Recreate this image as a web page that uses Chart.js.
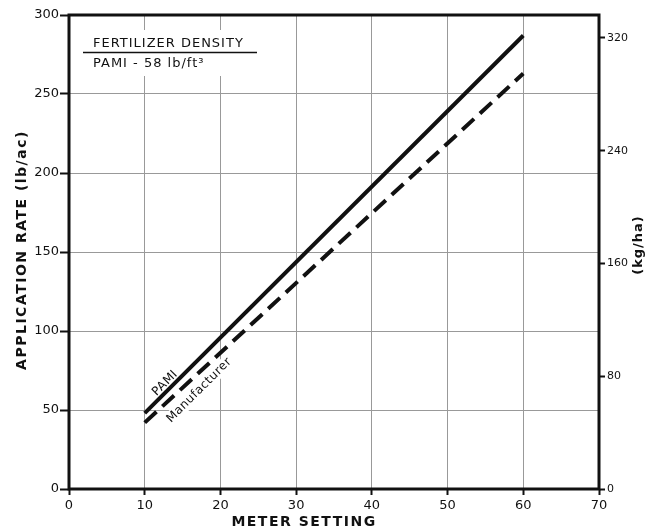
<!DOCTYPE html>
<html>
<head>
<meta charset="utf-8">
<script src="https://cdn.jsdelivr.net/npm/chart.js@4.4.1/dist/chart.umd.min.js"></script>
<style>
  html, body { margin: 0; padding: 0; background: #fff; }
  #wrap { width: 657px; height: 531px; position: relative; }
</style>
</head>
<body>
<div id="wrap"><canvas id="chart"></canvas></div>
<script>
// Meter setting vs application rate
const meterSettings = [10, 60];
const pamiRates = [48, 287];          // lb/ac
const manufacturerRates = [42, 263];  // lb/ac

const xTicks = [0, 10, 20, 30, 40, 50, 60, 70];
const lbTicks = [0, 50, 100, 150, 200, 250, 300];
const kgTicks = [0, 80, 160, 240, 320];
const LB_TO_KG = 1.12085;

const ink = '#111';
const font = '"DejaVu Sans", sans-serif';

function points(xs, ys) {
    return xs.map((x, i) => ({ x: x, y: ys[i] }));
}

// rotated labels next to the lines: [text, meter setting, rate]
const lineLabels = [
    ['PAMI', 12.7, 67],
    ['Manufacturer', 17.2, 62.5]
];

function eachLineLabel(chart, fn) {
    const ctx = chart.ctx;
    const xs = chart.scales.x;
    const ys = chart.scales.y;
    ctx.font = '12px ' + font;
    ctx.letterSpacing = '0.5px';
    ctx.textAlign = 'center';
    ctx.textBaseline = 'middle';
    lineLabels.forEach(([text, mx, my]) => {
        ctx.save();
        ctx.translate(xs.getPixelForValue(mx), ys.getPixelForValue(my));
        ctx.rotate(-Math.PI / 4);
        fn(ctx, text, ctx.measureText(text).width);
        ctx.restore();
    });
}

// frame, titles and the annotations
const decorPlugin = {
    id: 'decor',
    beforeDatasetsDraw(chart) {
        const ctx = chart.ctx;
        ctx.save();
        ctx.fillStyle = '#fff';
        ctx.fillRect(84, 30, 174, 46);
        eachLineLabel(chart, (c, text, w) => {
            c.fillStyle = '#fff';
            c.fillRect(-w / 2 - 3, -7, w + 6, 14);
        });
        ctx.restore();
    },
    afterDatasetsDraw(chart) {
        const ctx = chart.ctx;
        const a = chart.chartArea;
        ctx.save();

        // density box
        ctx.font = '13px ' + font;
        ctx.textBaseline = 'middle';
        ctx.textAlign = 'left';
        ctx.letterSpacing = '1px';
        ctx.fillStyle = ink;
        ctx.fillText('FERTILIZER DENSITY', 93, 44);
        ctx.fillText('PAMI - 58 lb/ft\u00B3', 93, 64);
        ctx.strokeStyle = ink;
        ctx.lineWidth = 1.5;
        ctx.beginPath();
        ctx.moveTo(83, 52.5);
        ctx.lineTo(257, 52.5);
        ctx.stroke();

        eachLineLabel(chart, (c, text) => {
            c.fillStyle = ink;
            c.fillText(text, 0, 0);
        });

        // frame
        ctx.strokeStyle = ink;
        ctx.lineWidth = 3;
        ctx.strokeRect(a.left, a.top, a.right - a.left, a.bottom - a.top);

        // axis titles
        ctx.fillStyle = ink;
        ctx.textBaseline = 'middle';
        ctx.letterSpacing = '1.5px';
        ctx.font = 'bold 14px ' + font;
        ctx.textAlign = 'center';
        ctx.fillText('METER SETTING', 304, 522);

        ctx.save();
        ctx.translate(22, 250);
        ctx.rotate(-Math.PI / 2);
        ctx.fillText('APPLICATION RATE (lb/ac)', 0, 0);
        ctx.restore();

        ctx.letterSpacing = '1px';
        ctx.font = 'bold 13px ' + font;
        ctx.save();
        ctx.translate(639, 245);
        ctx.rotate(-Math.PI / 2);
        ctx.fillText('(kg/ha)', 0, 0);
        ctx.restore();

        ctx.restore();
    }
};

const ctx = document.getElementById('chart').getContext('2d');
new Chart(ctx, {
    type: 'line',
    data: {
        datasets: [
            {
                label: 'PAMI',
                data: points(meterSettings, pamiRates),
                borderColor: ink,
                borderWidth: 4,
                pointRadius: 0,
                borderCapStyle: 'butt'
            },
            {
                label: 'Manufacturer',
                data: points(meterSettings, manufacturerRates),
                borderColor: ink,
                borderWidth: 4,
                borderDash: [16, 8],
                pointRadius: 0,
                borderCapStyle: 'butt'
            }
        ]
    },
    options: {
        responsive: true,
        maintainAspectRatio: false,
        animation: false,
        layout: { padding: { top: 15, left: 0, right: 0, bottom: 0 } },
        plugins: {
            legend: { display: false },
            tooltip: { enabled: false }
        },
        scales: {
            x: {
                type: 'linear',
                min: 0,
                max: 70,
                afterFit: s => { s.height = 42; },
                afterBuildTicks: s => { s.ticks = xTicks.map(v => ({ value: v })); },
                grid: { color: '#999', lineWidth: 1, tickColor: ink, tickWidth: 2, tickLength: 6 },
                border: { display: false },
                ticks: { color: ink, font: { family: font, size: 13 }, padding: 3 }
            },
            y: {
                position: 'left',
                min: 0,
                max: 300,
                afterFit: s => { s.width = 69; },
                afterBuildTicks: s => { s.ticks = lbTicks.map(v => ({ value: v })); },
                grid: { color: '#999', lineWidth: 1, tickColor: ink, tickWidth: 2, tickLength: 9 },
                border: { display: false },
                ticks: { color: ink, font: { family: font, size: 13 }, padding: 1 }
            },
            kg: {
                position: 'right',
                min: 0,
                max: 300 * LB_TO_KG,
                afterFit: s => { s.width = 58; },
                afterBuildTicks: s => { s.ticks = kgTicks.map(v => ({ value: v })); },
                grid: { drawOnChartArea: false, tickColor: ink, tickWidth: 2, tickLength: 6 },
                border: { display: false },
                ticks: { color: ink, font: { family: font, size: 11 }, padding: 2 }
            }
        }
    },
    plugins: [decorPlugin]
});
</script>
</body>
</html>
